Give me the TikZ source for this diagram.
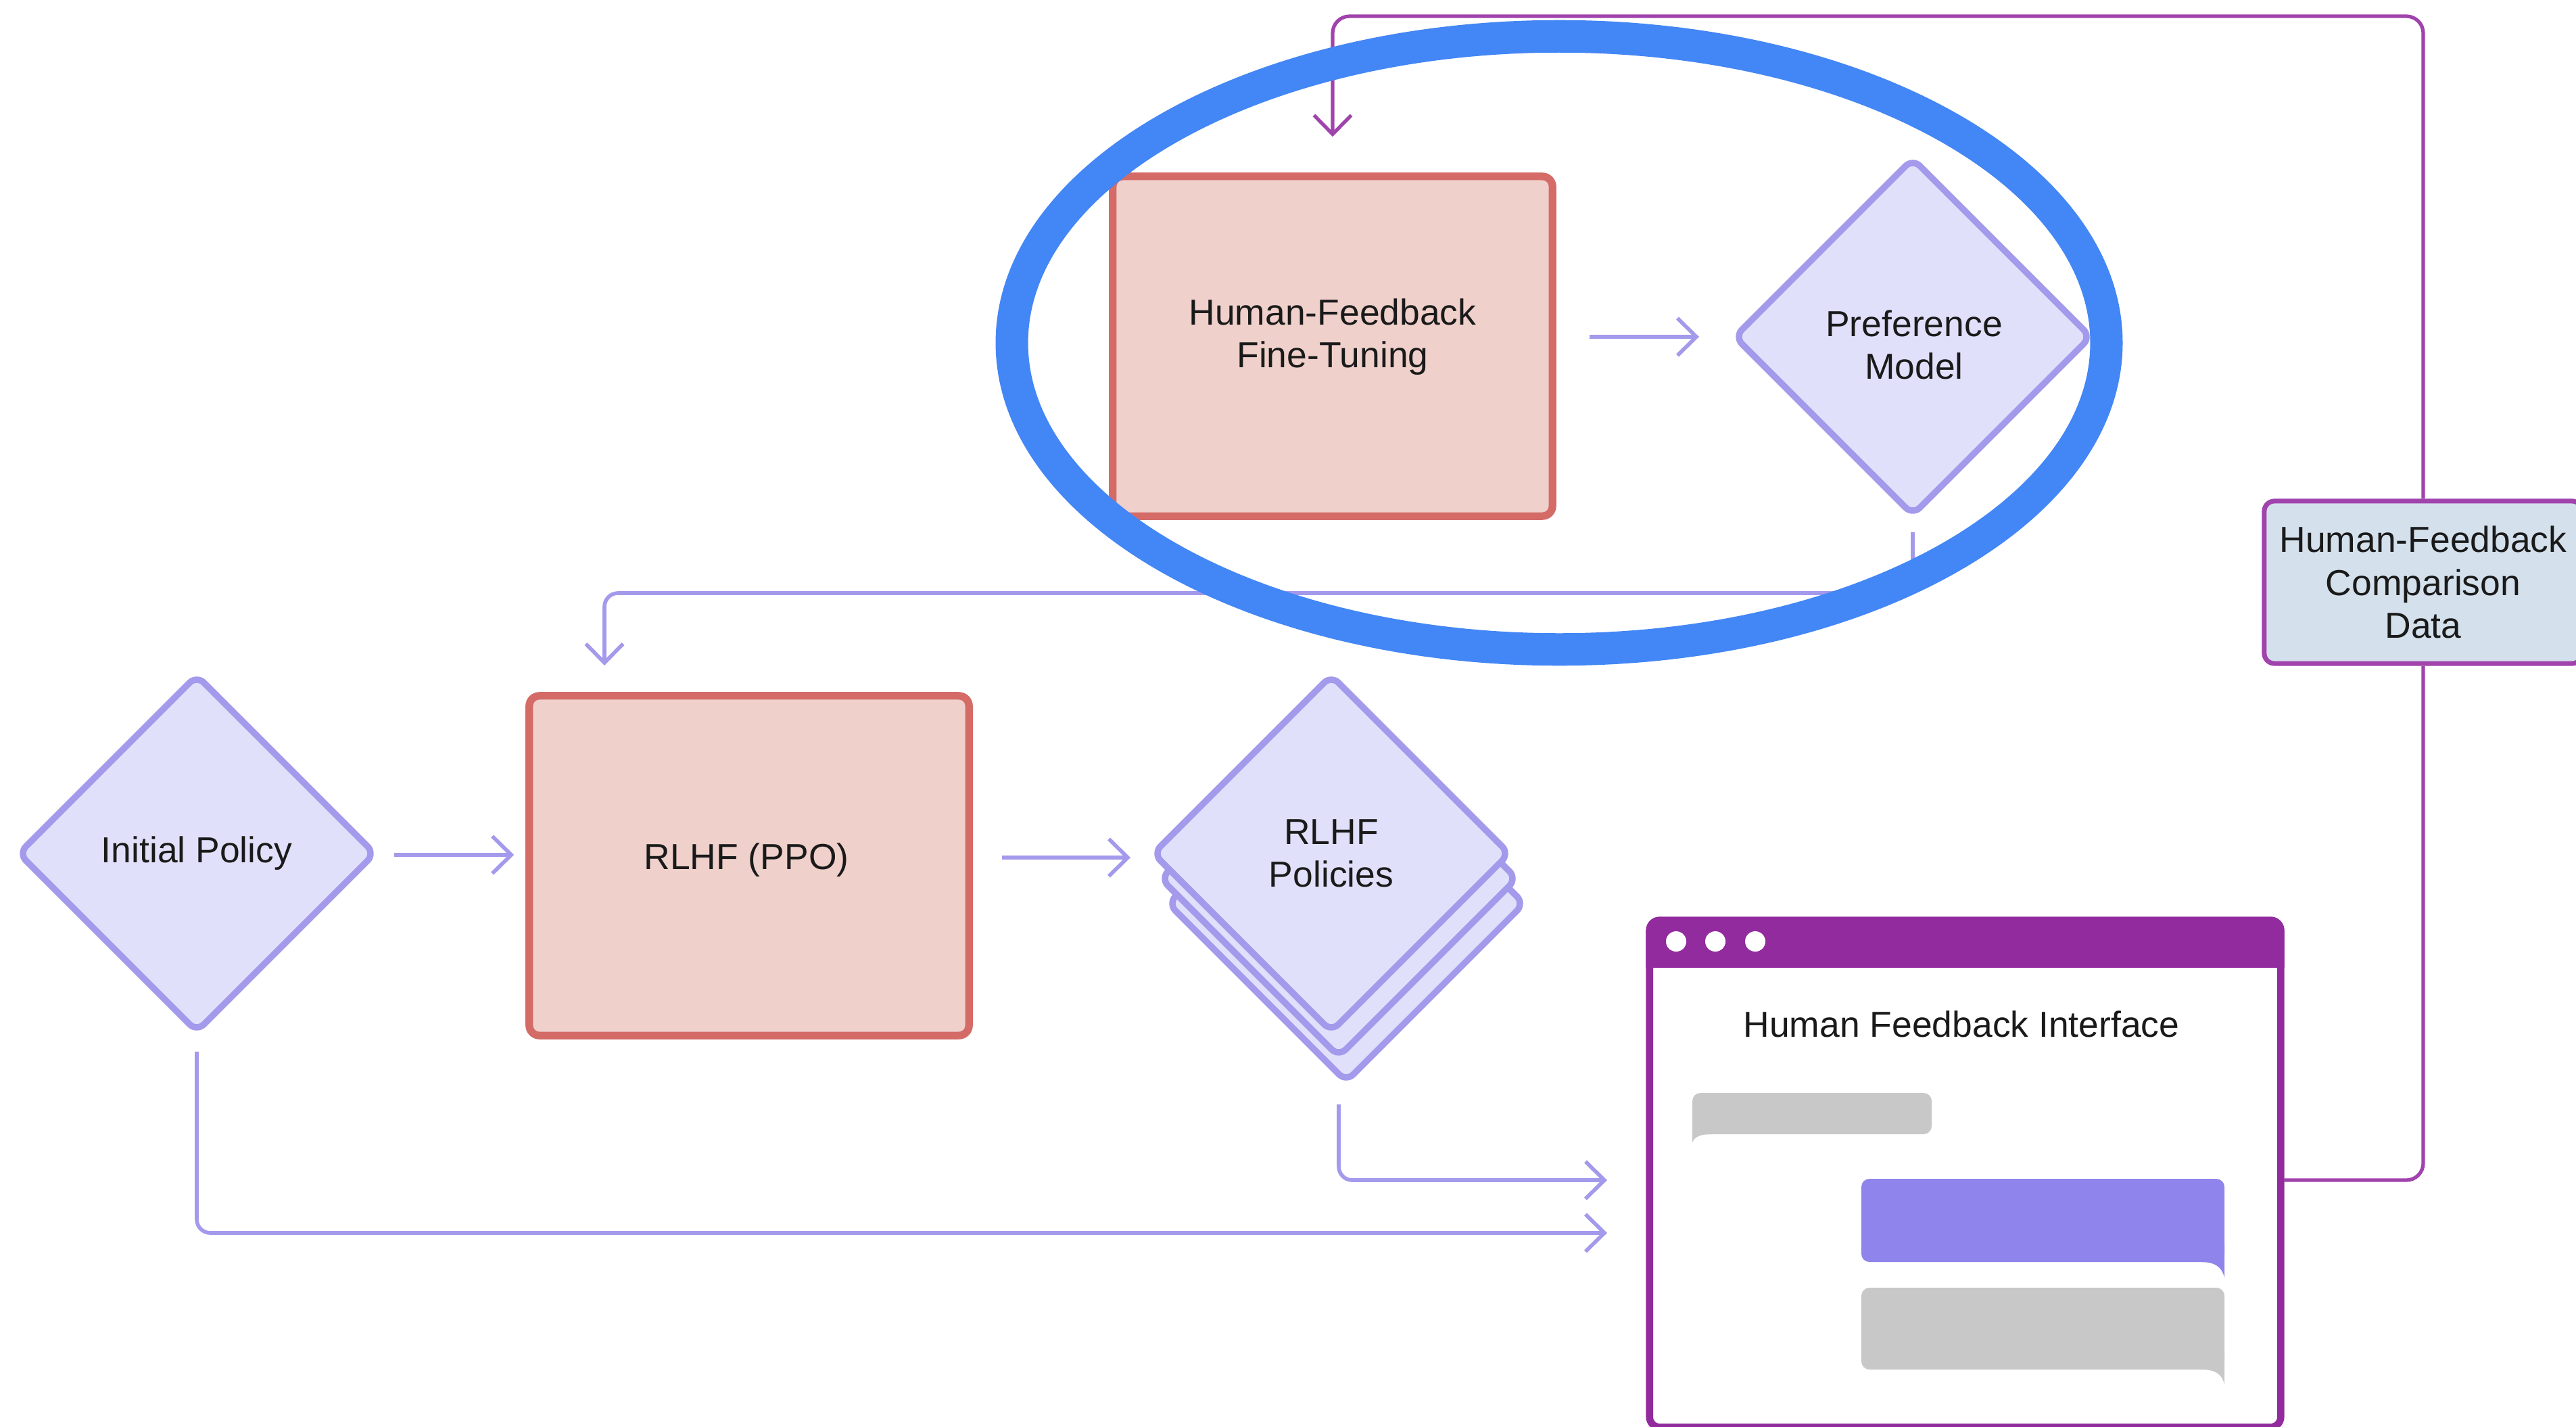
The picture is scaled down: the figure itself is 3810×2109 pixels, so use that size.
\documentclass[tikz,border=0pt]{standalone}
\usepackage{fontspec}
\setmainfont{Liberation Sans}
\usetikzlibrary{shapes.geometric,arrows.meta}
\definecolor{pinkfill}{HTML}{EFD0CB}
\definecolor{redline}{HTML}{D46B67}
\definecolor{lavfill}{HTML}{E0E0FA}
\definecolor{lavline}{HTML}{A39AEC}
\definecolor{compfill}{HTML}{D4E0EC}
\definecolor{purpline}{HTML}{A043AD}
\definecolor{winpurple}{HTML}{922B9D}
\definecolor{greybar}{HTML}{C8C8C8}
\definecolor{bubble}{HTML}{8E84EB}
\definecolor{hlblue}{HTML}{4386F5}
\definecolor{txt}{HTML}{1A1A1A}
\begin{document}
\begin{tikzpicture}[x=0.01cm,y=-0.01cm,
  lbl/.style={font=\fontsize{15.2}{18}\selectfont, text=txt, align=center},
  redbox/.style={lbl, rectangle, draw=redline, fill=pinkfill, line width=3.2pt, rounded corners=0.15cm, minimum width=6.5cm, minimum height=5.02cm},
  diam/.style={lbl, diamond, aspect=1, draw=lavline, fill=lavfill, line width=2.7pt, inner sep=0pt, rounded corners=0.15cm, minimum width=5.3cm, minimum height=5.3cm},
  compbox/.style={lbl, rectangle, draw=purpline, fill=compfill, line width=2pt, rounded corners=0.15cm, minimum width=4.7cm, minimum height=2.4cm},
  winbox/.style={rectangle, draw=winpurple, fill=white, line width=3pt, rounded corners=0.15cm, minimum width=9.33cm, minimum height=7.49cm},
  arr/.style={draw=lavline, line width=1.6pt, rounded corners=0.2cm, -{Straight Barb[length=0.28cm, width=0.55cm, line width=1.6pt]}},
  parr/.style={draw=purpline, line width=1.5pt, rounded corners=0.25cm, -{Straight Barb[length=0.28cm, width=0.55cm, line width=1.5pt]}},
  pline/.style={draw=purpline, line width=1.5pt, rounded corners=0.25cm}
]
\useasboundingbox (0,0) rectangle (3810,2109);
\clip (0,0) rectangle (3810,2109);
\fill[white] (0,0) rectangle (3810,2109);

% nodes
\node[redbox] (hf) at (1971,512) {};
\node[lbl] (hftext) at (1971,498) {Human-Feedback\\Fine-Tuning};
\node[diam] (pm) at (2829,498) {};
\node[lbl] (pmtext) at (2831,510) {Preference\\Model};
\node[compbox] (hfc) at (3584,861) {Human-Feedback\\Comparison\\Data};
\node[diam] (ip) at (291,1262) {Initial Policy};
\node[redbox] (ppo) at (1108,1280) {};
\node[lbl] (ppotext) at (1104,1272) {RLHF (PPO)};
\node[diam] (pol3) at (1991,1336) {};
\node[diam] (pol2) at (1980,1299) {};
\node[diam] (pol) at (1969,1262) {RLHF\\Policies};

% window
\node[winbox] (win) at (2906.5,1735.5) {};
\begin{scope}
  \clip (2400,1300) rectangle (3420,1430);
  \fill[winpurple, rounded corners=0.2cm] (win.north west) rectangle (win.south east);
\end{scope}
\fill[white] (2479,1392) circle [radius=0.15cm];
\fill[white] (2537,1392) circle [radius=0.15cm];
\fill[white] (2596,1392) circle [radius=0.15cm];
\node[lbl] (wtitle) at (2901,1514) {Human Feedback Interface};
% chat bubbles
\fill[greybar, rounded corners=0.12cm] (2503,1616) rectangle (2857,1677);
\fill[greybar] (2503,1650) -- (2503,1689) .. controls (2507,1680) and (2516,1677) .. (2532,1677) -- (2532,1650) -- cycle;
\fill[bubble, rounded corners=0.12cm] (2753,1743) rectangle (3290,1866);
\fill[bubble] (3290,1840) -- (3290,1889) .. controls (3286,1873) and (3276,1866) .. (3255,1866) -- (3255,1840) -- cycle;
\fill[greybar, rounded corners=0.12cm] (2753,1904) rectangle (3290,2025);
\fill[greybar] (3290,2000) -- (3290,2047) .. controls (3286,2031) and (3276,2025) .. (3255,2025) -- (3255,2000) -- cycle;

% connector coordinates
\coordinate (top) at (1971,24);
\coordinate (wout) at (3378,1745);
\coordinate (pmout) at (2829,787);
\coordinate (pmturn) at (2829,877);
\coordinate (ppoturn) at (894,877);
\coordinate (ppoin) at (894,984);
\coordinate (ipout) at (291,1555);
\coordinate (ipturn) at (291,1823);
\coordinate (wtipa) at (2377,1823);
\coordinate (polout) at (1980,1633);
\coordinate (polturn) at (1980,1745);
\coordinate (wtipb) at (2377,1745);

% connectors
\draw[arr] ([xshift=0.49cm]hf.east |- 0,498) -- (2513,498);
\draw[arr] (583,1264) -- ([xshift=-0.17cm]ppo.west |- 0,1264);
\draw[arr] ([xshift=0.43cm]ppo.east |- 0,1268) -- (1672,1268);
\draw[arr] (pmout) -- (pmturn) -- (ppoturn) -- (ppoin);
\draw[arr] (ipout) -- (ipturn) -- (wtipa);
\draw[arr] (polout) -- (polturn) -- (wtipb);
\draw[parr] (hfc.north) |- (top) -- ([yshift=0.53cm]hf.north);
\draw[pline] (wout) -| (hfc.south);

% highlight
\draw[hlblue, line width=0.48cm] (2306,507) ellipse [x radius=8.09cm, y radius=4.53cm];
\end{tikzpicture}
\end{document}
